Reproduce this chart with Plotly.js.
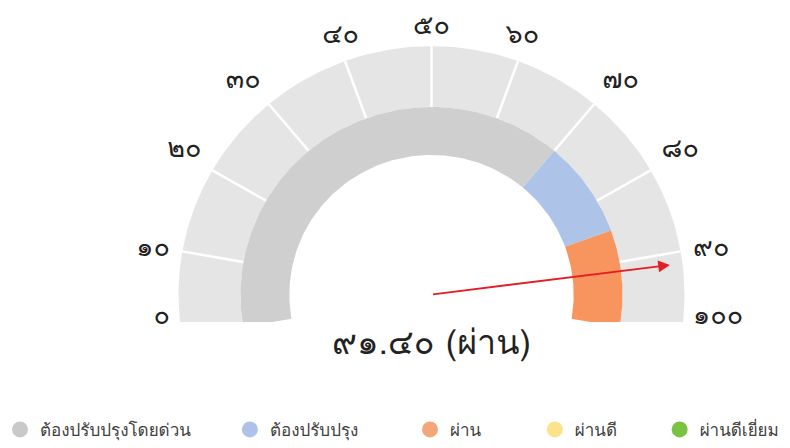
<!DOCTYPE html>
<html><head><meta charset="utf-8">
<script src="https://cdn.plot.ly/plotly-3.0.1.min.js"></script>
<style>html,body{margin:0;padding:0;background:#fff}</style></head>
<body><div id="chart" style="width:790px;height:448px"></div>
<script>
// ---- data ----
const tickValues = [0, 10, 20, 30, 40, 50, 60, 70, 80, 90, 100];
const categories = ['ต้องปรับปรุงโดยด่วน', 'ต้องปรับปรุง', 'ผ่าน', 'ผ่านดี', 'ผ่านดีเยี่ยม'];
const bandStarts = [0, 70, 85];
const bandEnds = [70, 85, 100];
const bandCategory = [0, 1, 2];
const score = [91.40];
const scoreCategory = ['ผ่าน'];

// ---- styles / geometry ----
const ringColors = ['#d0cfcf', '#adc3e8', '#f8955f'];
const legendColors = ['#c9c9c9', '#adc2e6', '#f4a67b', '#fde28c', '#7cc242'];
const legendX = [0.0, 0.291, 0.519, 0.677, 0.835];
const outerColor = '#e5e5e5';
const START_DEG = -10, SPAN_DEG = 200;
const R_HOLE = 0.562, R_MID = 0.755, R_OUT = 1.0, R_LABEL = 1.05, R_LABEL_TOP = 1.075, R_NEEDLE = 0.95;
const LABEL_FLOOR = -0.09;
const FONT = 'Kinnari, Norasi, Garuda, Loma, Noto Sans, DejaVu Sans, sans-serif';

function ang(v) { return (180 - START_DEG - SPAN_DEG * v / 100) * Math.PI / 180; }
function px(r, v) { return r * Math.cos(ang(v)); }
function py(r, v) { return r * Math.sin(ang(v)); }
function arc(v0, v1, r0, r1) {
  const xs = [], ys = [];
  const n = Math.max(4, Math.ceil((v1 - v0) * 2));
  for (let i = 0; i <= n; i++) { const v = v0 + (v1 - v0) * i / n; xs.push(px(r1, v)); ys.push(py(r1, v)); }
  for (let i = n; i >= 0; i--) { const v = v0 + (v1 - v0) * i / n; xs.push(px(r0, v)); ys.push(py(r0, v)); }
  xs.push(xs[0]); ys.push(ys[0]);
  return {xs, ys};
}
function isTop(v) { const d = ang(v) * 180 / Math.PI; return d > 80 && d < 100; }
function labelPos(v) {
  const d = ang(v) * 180 / Math.PI;
  if (d >= 165) return 'middle left';
  if (d > 120) return 'top left';
  if (d > 80 && d < 100) return 'middle center';
  if (d >= 60) return 'top center';
  if (d > 15) return 'top right';
  return 'middle right';
}
const thaiDigits = '๐๑๒๓๔๕๖๗๘๙';
function thai(s) { return String(s).replace(/[0-9]/g, d => thaiDigits[+d]); }

const traces = [];
// outer scale ring
for (let i = 0; i < tickValues.length - 1; i++) {
  const a = arc(tickValues[i], tickValues[i + 1], R_MID, R_OUT);
  traces.push({type: 'scatter', x: a.xs, y: a.ys, mode: 'lines', fill: 'toself',
    fillcolor: outerColor, line: {width: 0, color: outerColor}, hoverinfo: 'skip', showlegend: false});
}
// separators
for (let i = 1; i < tickValues.length - 1; i++) {
  const v = tickValues[i];
  traces.push({type: 'scatter', x: [px(R_MID, v), px(R_OUT, v)], y: [py(R_MID, v), py(R_OUT, v)],
    mode: 'lines', line: {color: '#ffffff', width: 2.5}, hoverinfo: 'skip', showlegend: false});
}
// inner band ring
for (let i = 0; i < bandStarts.length; i++) {
  const a = arc(bandStarts[i], bandEnds[i], R_HOLE, R_MID);
  const c = ringColors[bandCategory[i]];
  traces.push({type: 'scatter', x: a.xs, y: a.ys, mode: 'lines', fill: 'toself',
    fillcolor: c, line: {width: 0, color: c}, hoverinfo: 'skip', showlegend: false});
}
// tick labels
const labelR = v => isTop(v) ? R_LABEL_TOP : R_LABEL;
traces.push({type: 'scatter', mode: 'text', cliponaxis: false, hoverinfo: 'skip', showlegend: false,
  x: tickValues.map(v => px(labelR(v), v)),
  y: tickValues.map(v => Math.max(py(labelR(v), v), LABEL_FLOOR)),
  text: tickValues.map(v => thai(v)),
  textfont: {family: FONT, size: 27, color: '#222222'},
  textposition: tickValues.map(labelPos)});
// legend entries (one legend per entry)
const legends = {};
categories.forEach((c, i) => {
  const key = i === 0 ? 'legend' : 'legend' + (i + 1);
  traces.push({type: 'scatter', x: [null], y: [null], mode: 'markers', legend: key,
    name: c, marker: {color: legendColors[i], size: 16, symbol: 'circle'}, hoverinfo: 'skip'});
  legends[key] = {orientation: 'h', x: legendX[i], xanchor: 'left', y: -0.335, yanchor: 'middle',
    bgcolor: 'rgba(0,0,0,0)', font: {family: FONT, size: 17, color: '#404040'}};
});

const layout = Object.assign({
  width: 790, height: 448,
  margin: {l: 0, r: 0, t: 0, b: 120},
  paper_bgcolor: '#ffffff', plot_bgcolor: '#ffffff',
  xaxis: {range: [-431.5 / 253, 358.5 / 253], visible: false, fixedrange: true},
  yaxis: {range: [-28 / 253, 300 / 253], visible: false, fixedrange: true},
  showlegend: true,
  annotations: [
    {x: px(R_NEEDLE, score[0]), y: py(R_NEEDLE, score[0]), xref: 'x', yref: 'y',
     ax: 0, ay: 0, axref: 'x', ayref: 'y', text: '', showarrow: true,
     arrowhead: 2, arrowsize: 1.3, arrowwidth: 1.8, arrowcolor: '#e31e24', standoff: 0},
    {x: 0, y: 0, xref: 'x', yref: 'y', yshift: -47, yanchor: 'middle', xanchor: 'center',
     text: thai(score[0].toFixed(2)) + ' (' + scoreCategory[0] + ')', showarrow: false,
     font: {family: FONT, size: 34, color: '#222222'}}
  ]
}, legends);
Plotly.newPlot('chart', traces, layout, {staticPlot: true, displayModeBar: false});
</script></body></html>
